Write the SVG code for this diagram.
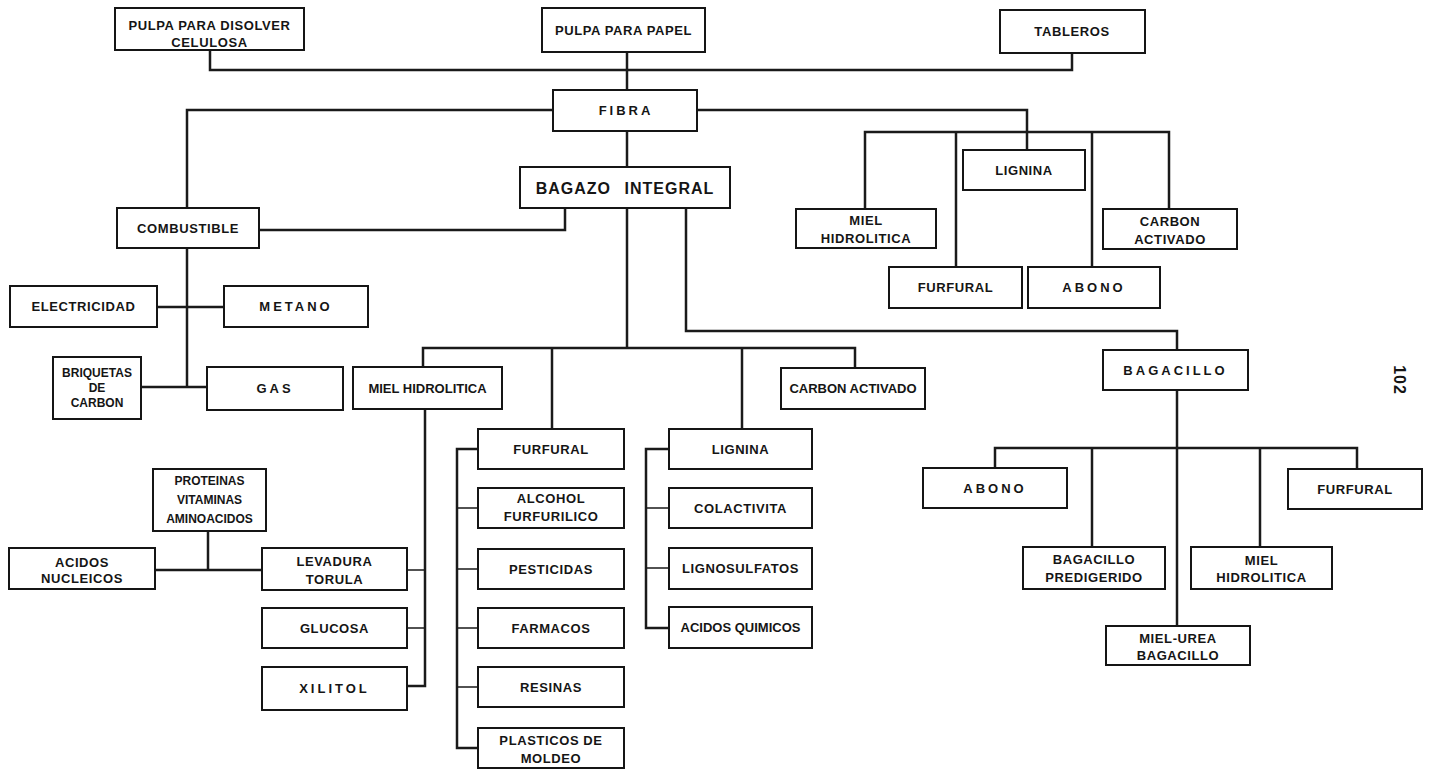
<svg xmlns="http://www.w3.org/2000/svg" width="1434" height="773" viewBox="0 0 1434 773">
<style>
.b{fill:#fff;stroke:#151515;stroke-width:2}
.c{fill:none;stroke:#1a1a1a;stroke-width:2.5;stroke-linejoin:miter}
.t{stroke:#1a1a1a;stroke-width:1.6;fill:none}
text{font-family:"Liberation Sans",Arial,sans-serif;font-weight:bold;font-size:13px;fill:#151515;text-anchor:middle;letter-spacing:0.6px}
.s{font-size:12px;letter-spacing:0}
.n{letter-spacing:0}
.w{letter-spacing:3px}
.big{font-size:16px;letter-spacing:1px;word-spacing:8px}
</style>
<rect width="1434" height="773" fill="#fff"/>
<g id="connectors">
<path class="c" d="M210,50 V70 H1072 V53"/>
<path class="c" d="M627,52 V90"/>
<path class="c" d="M553,110 H187 V208"/>
<path class="c" d="M697,110 H1027 V150"/>
<path class="c" d="M865,209 V132 H1169 V209"/>
<path class="c" d="M956,132 V267"/>
<path class="c" d="M1092,132 V267"/>
<path class="c" d="M627,131 V167"/>
<path class="c" d="M259,230 H565 V208"/>
<path class="c" d="M187,248 V387"/>
<path class="c" d="M157,307 H224"/>
<path class="c" d="M141,387 H207"/>
<path class="c" d="M627,208 V348"/>
<path class="c" d="M423,367 V348 H855 V368"/>
<path class="c" d="M552,348 V429"/>
<path class="c" d="M742,348 V429"/>
<path class="c" d="M686,208 V331 H1177 V350"/>
<path class="c" d="M1177,390 V626"/>
<path class="c" d="M995,468 V448 H1357 V469"/>
<path class="c" d="M1092,448 V547"/>
<path class="c" d="M1260,448 V547"/>
<path class="c" d="M425,409 V686 H407"/>
<path class="t" d="M407,570 H425 M407,628 H425"/>
<path class="c" d="M155,570 H262"/>
<path class="c" d="M208,531 V570"/>
<path class="c" d="M478,449 H457 V748 H478"/>
<path class="t" d="M457,508 H478 M457,569 H478 M457,628 H478 M457,687 H478"/>
<path class="c" d="M669,449 H646 V628 H669"/>
<path class="t" d="M646,508 H669 M646,568 H669"/>
</g>
<g id="n-celulosa"><rect class="b" x="115" y="8" width="189" height="42"/><text x="209.5" y="30">PULPA PARA DISOLVER</text><text x="209.5" y="47">CELULOSA</text></g>
<g id="n-papel"><rect class="b" x="542" y="8" width="163" height="44"/><text x="623.5" y="35">PULPA PARA PAPEL</text></g>
<g id="n-tableros"><rect class="b" x="1000" y="10" width="145" height="43"/><text x="1072" y="36">TABLEROS</text></g>
<g id="n-fibra"><rect class="b" x="553" y="90" width="144" height="41"/><text class="w" x="626" y="115">FIBRA</text></g>
<g id="n-bagazo"><rect class="b" x="520" y="167" width="210" height="41"/><text class="big" x="625" y="194">BAGAZO INTEGRAL</text></g>
<g id="n-combustible"><rect class="b" x="117" y="208" width="142" height="40"/><text x="188" y="233">COMBUSTIBLE</text></g>
<g id="n-electricidad"><rect class="b" x="10" y="286" width="147" height="41"/><text x="83.5" y="311">ELECTRICIDAD</text></g>
<g id="n-metano"><rect class="b" x="224" y="286" width="144" height="41"/><text class="w" x="296" y="311">METANO</text></g>
<g id="n-briquetas"><rect class="b" x="53" y="357" width="88" height="62"/><text class="s" x="97" y="377">BRIQUETAS</text><text class="s" x="97" y="392">DE</text><text class="s" x="97" y="407">CARBON</text></g>
<g id="n-gas"><rect class="b" x="207" y="367" width="136" height="43"/><text class="w" x="275" y="393">GAS</text></g>
<g id="n-miel-mid"><rect class="b" x="353" y="367" width="149" height="42"/><text class="n" x="427.5" y="393">MIEL HIDROLITICA</text></g>
<g id="n-carbon-mid"><rect class="b" x="781" y="368" width="144" height="41"/><text class="n" x="853" y="393">CARBON ACTIVADO</text></g>
<g id="n-furfural-mid"><rect class="b" x="478" y="429" width="146" height="40"/><text x="551" y="454">FURFURAL</text></g>
<g id="n-alcohol"><rect class="b" x="478" y="488" width="146" height="40"/><text x="551" y="503">ALCOHOL</text><text x="551" y="521">FURFURILICO</text></g>
<g id="n-pesticidas"><rect class="b" x="478" y="549" width="146" height="40"/><text x="551" y="574">PESTICIDAS</text></g>
<g id="n-farmacos"><rect class="b" x="478" y="608" width="146" height="40"/><text x="551" y="633">FARMACOS</text></g>
<g id="n-resinas"><rect class="b" x="478" y="667" width="146" height="40"/><text x="551" y="692">RESINAS</text></g>
<g id="n-plasticos"><rect class="b" x="478" y="728" width="146" height="40"/><text x="551" y="745">PLASTICOS DE</text><text x="551" y="763">MOLDEO</text></g>
<g id="n-lignina-mid"><rect class="b" x="669" y="429" width="143" height="40"/><text x="740.5" y="454">LIGNINA</text></g>
<g id="n-colactivita"><rect class="b" x="669" y="488" width="143" height="40"/><text x="740.5" y="513">COLACTIVITA</text></g>
<g id="n-lignosulfatos"><rect class="b" x="669" y="548" width="143" height="41"/><text x="740.5" y="573">LIGNOSULFATOS</text></g>
<g id="n-acidos-quimicos"><rect class="b" x="669" y="607" width="143" height="41"/><text class="n" x="740.5" y="632">ACIDOS QUIMICOS</text></g>
<g id="n-proteinas"><rect class="b" x="153" y="469" width="113" height="62"/><text class="s" x="209.5" y="485">PROTEINAS</text><text class="s" x="209.5" y="504">VITAMINAS</text><text class="s" x="209.5" y="523">AMINOACIDOS</text></g>
<g id="n-acidos-nucleicos"><rect class="b" x="9" y="548" width="146" height="41"/><text x="82" y="566.5">ACIDOS</text><text x="82" y="582.5">NUCLEICOS</text></g>
<g id="n-levadura"><rect class="b" x="262" y="548" width="145" height="42"/><text x="334.5" y="566">LEVADURA</text><text x="334.5" y="584">TORULA</text></g>
<g id="n-glucosa"><rect class="b" x="262" y="608" width="145" height="40"/><text x="334.5" y="633">GLUCOSA</text></g>
<g id="n-xilitol"><rect class="b" x="262" y="667" width="145" height="43"/><text class="w" x="334.5" y="693">XILITOL</text></g>
<g id="n-miel-tr"><rect class="b" x="796" y="209" width="140" height="39"/><text x="866" y="224.5">MIEL</text><text x="866" y="242.5">HIDROLITICA</text></g>
<g id="n-lignina-tr"><rect class="b" x="963" y="150" width="122" height="40"/><text x="1024" y="175">LIGNINA</text></g>
<g id="n-furfural-tr"><rect class="b" x="889" y="267" width="133" height="41"/><text x="955.5" y="292">FURFURAL</text></g>
<g id="n-abono-tr"><rect class="b" x="1028" y="267" width="132" height="41"/><text class="w" x="1094" y="292">ABONO</text></g>
<g id="n-carbon-tr"><rect class="b" x="1103" y="209" width="134" height="40"/><text x="1170" y="225.5">CARBON</text><text x="1170" y="243.5">ACTIVADO</text></g>
<g id="n-bagacillo"><rect class="b" x="1103" y="350" width="145" height="40"/><text class="w" x="1175.5" y="375">BAGACILLO</text></g>
<g id="n-abono-b"><rect class="b" x="923" y="468" width="144" height="40"/><text class="w" x="995" y="493">ABONO</text></g>
<g id="n-predigerido"><rect class="b" x="1023" y="547" width="142" height="42"/><text x="1094" y="563.5">BAGACILLO</text><text x="1094" y="581.5">PREDIGERIDO</text></g>
<g id="n-miel-urea"><rect class="b" x="1106" y="626" width="144" height="39"/><text x="1178" y="642.5">MIEL-UREA</text><text x="1178" y="659.5">BAGACILLO</text></g>
<g id="n-miel-b"><rect class="b" x="1191" y="547" width="141" height="42"/><text x="1261.5" y="564.5">MIEL</text><text x="1261.5" y="581.5">HIDROLITICA</text></g>
<g id="n-furfural-b"><rect class="b" x="1288" y="469" width="134" height="40"/><text x="1355" y="494">FURFURAL</text></g>
<text transform="translate(1400,380) rotate(90)" x="0" y="6" style="font-size:16px;letter-spacing:1px">102</text>
</svg>
